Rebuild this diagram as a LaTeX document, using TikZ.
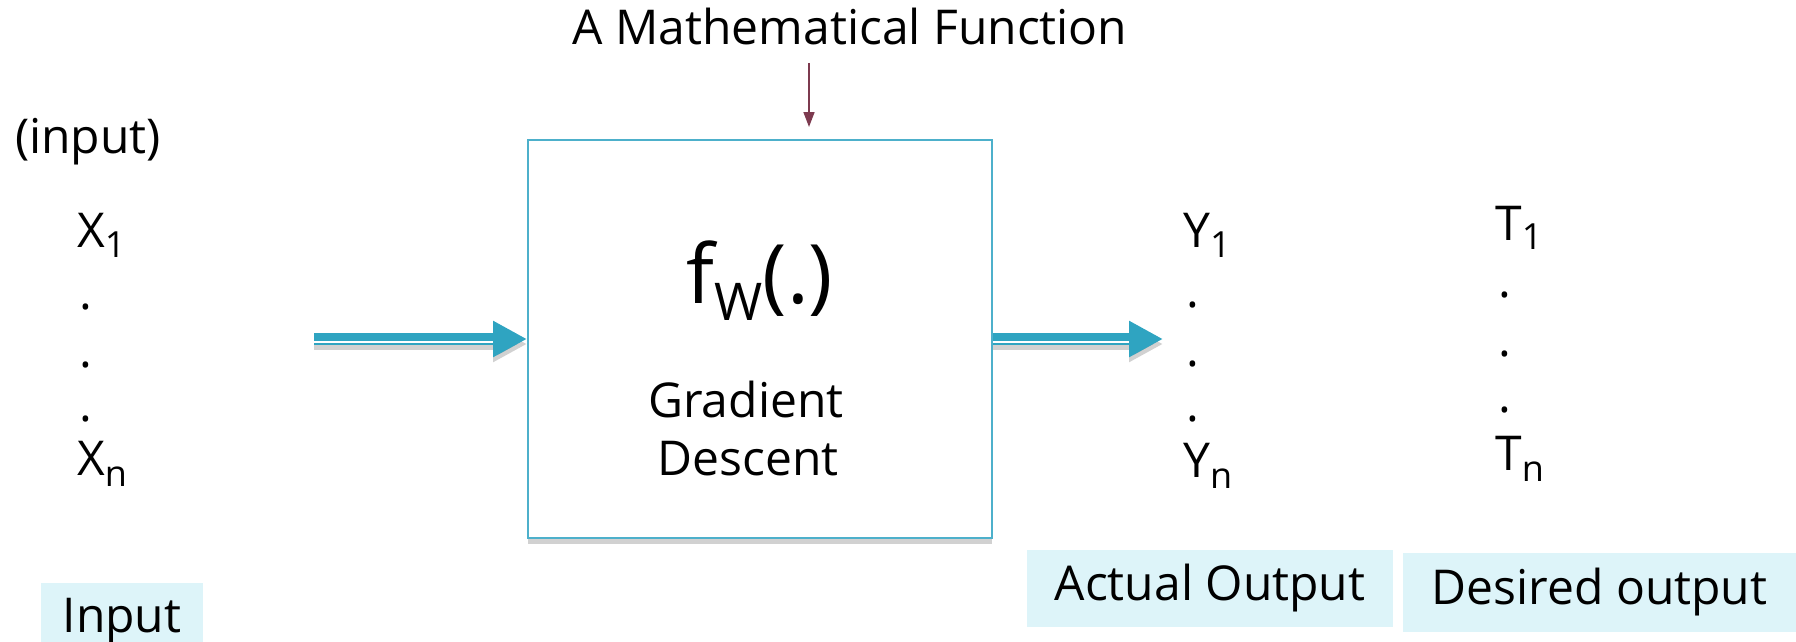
\documentclass[tikz,border=0pt]{standalone}
\usepackage{fontspec}
\setmainfont{Open Sans}
\usetikzlibrary{arrows.meta,shadows}
\definecolor{teal1}{HTML}{2FA4C1}
\definecolor{boxline}{HTML}{4DB0CB}
\definecolor{maroon1}{HTML}{7D3A4F}
\definecolor{lblfill}{HTML}{DDF4F9}
\tikzset{
  txt/.style={inner sep=0pt, font=\fontsize{48}{58}\selectfont},
  tag/.style={txt, fill=lblfill},
  bigarrow/.style={teal1, line width=12pt, -{Triangle[length=34pt,width=34pt]}},
  arrshadow/.style={black, opacity=0.18, line width=12pt, -{Triangle[length=34pt,width=34pt]}},
  slit/.style={white, line width=1.6pt},
  fnarrow/.style={maroon1, line width=1.6pt, -{Triangle[length=15pt,width=11pt]}},
  mainbox/.style={draw=boxline, line width=2pt, fill=white, minimum width=464pt, minimum height=398pt,
    drop shadow={shadow xshift=0pt, shadow yshift=-6pt, opacity=0.18, fill=black}}
}
\newcommand{\subs}[2]{\raisebox{#1}{\fontsize{36}{36}\selectfont #2}}
\begin{document}
\begin{tikzpicture}[x=1pt,y=-1pt]
\useasboundingbox (0,0) rectangle (1796,642);

% title and its arrow
\node[txt, anchor=base] (title) at (850,45) {A Mathematical Function};
\node[mainbox] (box) at (760,339) {};
\coordinate (ftop) at (809,63);
\draw[fnarrow] (ftop) -- ([yshift=12pt]ftop |- box.north);

% content of the box
\node[inner sep=0pt, anchor=base] (fw) at (760,303)
  {\fontsize{82}{86}\selectfont f\raisebox{-17pt}{\fontsize{52}{52}\selectfont W}(.)};
\node[txt, anchor=base] (grad) at (746,417) {Gradient};
\node[txt, anchor=base] (desc) at (748,475) {Descent};

% input column
\node[txt, anchor=base] (inp) at (88,153) {(input)};
\node[txt, anchor=base west] (x1) at (77,247) {X\subs{-10pt}{1}};
\node[txt, anchor=base west] (xd1) at (79,309) {.};
\node[txt, anchor=base west] (xd2) at (79,367) {.};
\node[txt, anchor=base west] (xd3) at (79,421) {.};
\node[txt, anchor=base west] (xn) at (77,475) {X\subs{-11pt}{n}};

% output column
\node[txt, anchor=base west] (y1) at (1183,247) {Y\subs{-10pt}{1}};
\node[txt, anchor=base west] (yd1) at (1186,307) {.};
\node[txt, anchor=base west] (yd2) at (1186,366) {.};
\node[txt, anchor=base west] (yd3) at (1186,421) {.};
\node[txt, anchor=base west] (yn) at (1183,477) {Y\subs{-11pt}{n}};

% target column
\node[txt, anchor=base west] (t1) at (1495,240) {T\subs{-9pt}{1}};
\node[txt, anchor=base west] (td1) at (1498,297) {.};
\node[txt, anchor=base west] (td2) at (1498,356) {.};
\node[txt, anchor=base west] (td3) at (1498,412) {.};
\node[txt, anchor=base west] (tn) at (1495,470) {T\subs{-11pt}{n}};

% arrows
\coordinate (inL) at (314,339);
\coordinate (outR) at (1163,339);
\draw[arrshadow] ([yshift=-5pt]inL) -- ([yshift=-5pt]box.west);
\draw[bigarrow] (inL) -- (box.west);
\draw[slit] ([yshift=-3pt]inL) -- ([xshift=-34pt,yshift=-3pt]box.west);
\draw[arrshadow] ([yshift=-5pt]box.east) -- ([yshift=-5pt]outR);
\draw[bigarrow] (box.east) -- (outR);
\draw[slit] ([yshift=-3pt]box.east) -- ([xshift=-34pt,yshift=-3pt]outR);

% bottom labels
\node[tag, minimum width=162pt, minimum height=77pt] (lin) at (122,621.5) {Input};
\node[tag, minimum width=366pt, minimum height=77pt] (lact) at (1210,588.5) {Actual Output};
\node[tag, minimum width=393pt, minimum height=79pt] (ldes) at (1599.5,592.5) {Desired output};
\end{tikzpicture}
\end{document}
